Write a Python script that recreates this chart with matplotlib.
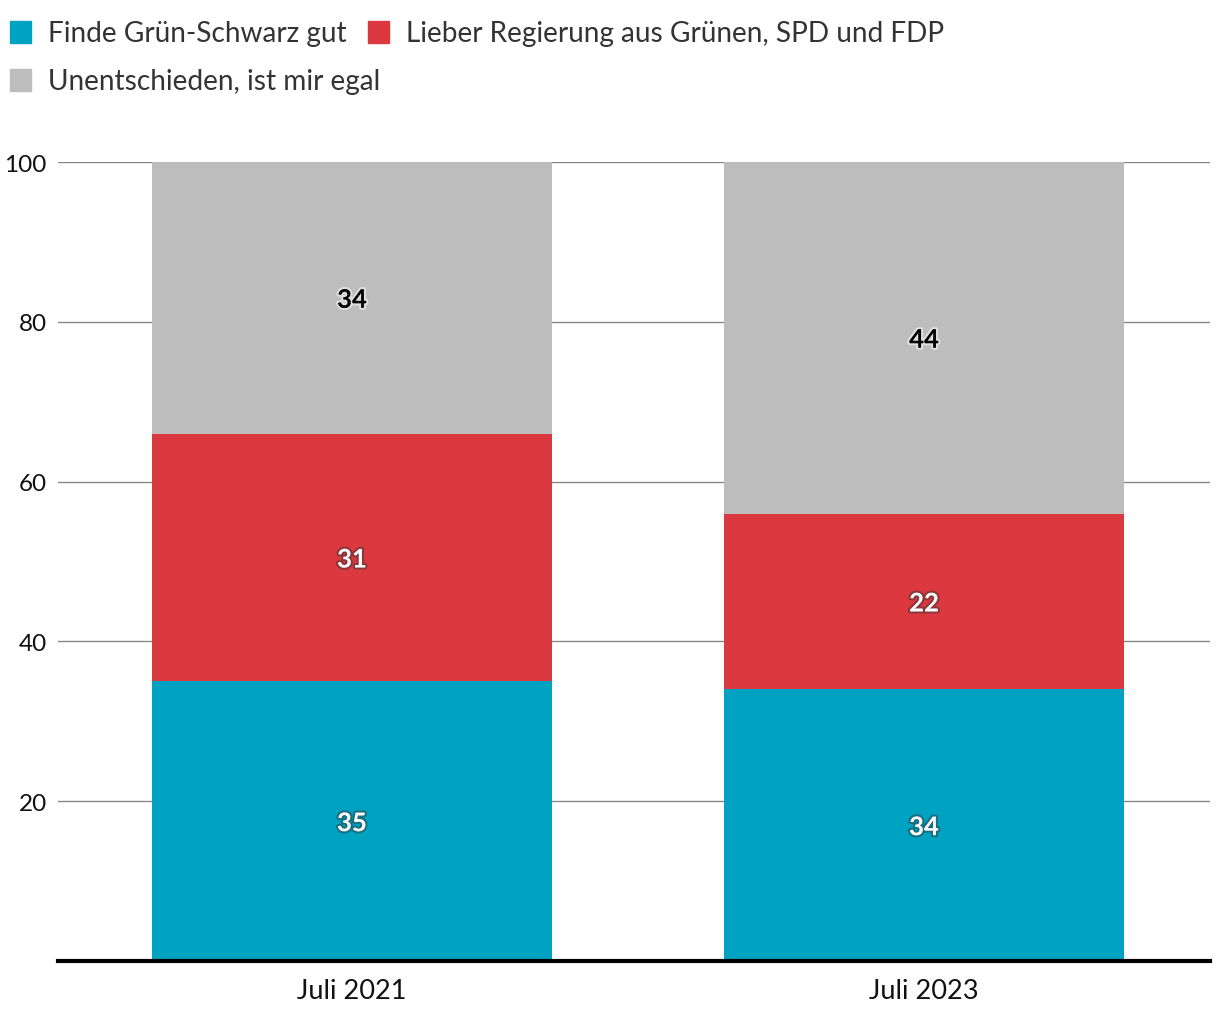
import matplotlib.pyplot as plt
import matplotlib.patheffects as pe
from matplotlib.patches import Rectangle

plt.rcParams['font.family'] = ['Lato', 'DejaVu Sans']

zeitpunkte = ["Juli 2021", "Juli 2023"]
gruen_schwarz = [35, 34]
gruen_spd_fdp = [31, 22]
egal = [34, 44]

serien = ["Finde Grün-Schwarz gut", "Lieber Regierung aus Grünen, SPD und FDP",
          "Unentschieden, ist mir egal"]
farben = ["#00A2C2", "#DB3840", "#BDBDBD"]
yticks = [20, 40, 60, 80, 100]

fig = plt.figure(figsize=(12.2, 10.2), dpi=100)
ax = fig.add_axes([58/1220, 58/1020, (1210-58)/1220, (962-163)/1020])

x = list(range(len(zeitpunkte)))
unten = [0, 0]
for werte, farbe, name in zip([gruen_schwarz, gruen_spd_fdp, egal], farben, serien):
    bars = ax.bar(x, werte, bottom=unten, width=0.7, color=farbe, zorder=2)
    for xi, w, b in zip(x, werte, unten):
        if farbe == "#BDBDBD":
            t = ax.text(xi, b + w/2, str(w), ha="center", va="center_baseline", fontsize=18.5,
                        fontweight="bold", color="black", zorder=3)
            t.set_path_effects([pe.withStroke(linewidth=3, foreground="white", alpha=0.5)])
        else:
            t = ax.text(xi, b + w/2, str(w), ha="center", va="center_baseline", fontsize=18.5,
                        fontweight="bold", color="white", zorder=3)
            t.set_path_effects([pe.withStroke(linewidth=3, foreground="#333333", alpha=0.45)])
    unten = [u + w for u, w in zip(unten, werte)]

ax.set_xlim(-0.514, 1.5)
ax.set_ylim(0, 100)
ax.set_yticks(yticks)
ax.set_yticklabels([str(v) for v in yticks], fontsize=17.5, color="#111111")
ax.set_xticks(x)
ax.set_xticklabels(zeitpunkte, fontsize=19.5, color="#111111")
ax.tick_params(axis="both", length=0)
ax.tick_params(axis="y", pad=8)
ax.tick_params(axis="x", pad=12)
ax.yaxis.grid(True, color="#888888", linewidth=1, zorder=0)
ax.set_axisbelow(True)
for s in ["top", "right", "left"]:
    ax.spines[s].set_visible(False)
ax.spines["bottom"].set_linewidth(3)
ax.spines["bottom"].set_color("black")
ax.spines["bottom"].set_zorder(4)

# Legende oben
leg = [(10, 22, serien[0], farben[0]), (368, 22, serien[1], farben[1]),
       (10, 70, serien[2], farben[2])]
for lx, ly, txt, c in leg:
    fig.patches.append(Rectangle((lx/1220, 1 - (ly+22)/1020), 21/1220, 22/1020,
                                 transform=fig.transFigure, color=c))
    fig.text((lx+38)/1220, 1 - (ly+12)/1020, txt, fontsize=20.2, color="#333333",
             va="center", ha="left")

fig.savefig("out.png", dpi=100)
